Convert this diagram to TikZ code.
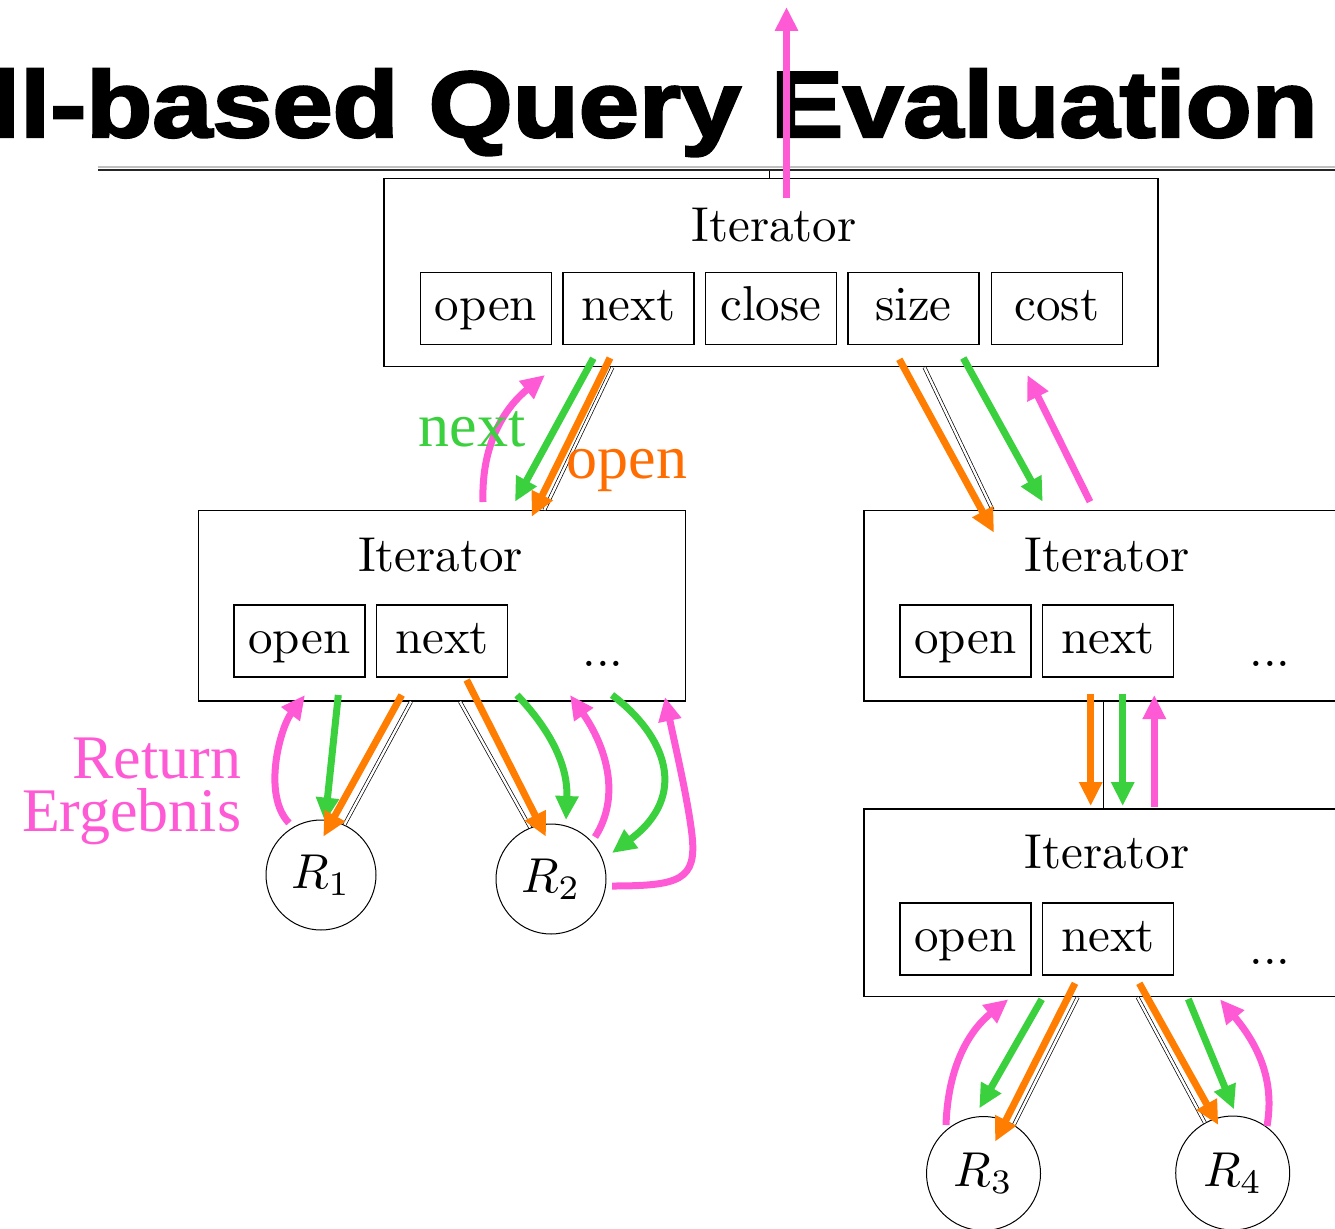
\documentclass[tikz,border=0pt]{standalone}
\usepackage{fontspec}
\usepackage{graphicx}
\usetikzlibrary{arrows.meta,calc}

\newfontfamily\titlefont{Liberation Sans}[BoldFeatures={FakeBold=2.5}]
\newfontfamily\labelfont{Liberation Serif}

% Computer Modern at its 10pt design size, enlarged
\newcommand\bigcm[1]{\scalebox{4.9}{#1}}

\definecolor{cgreen}{RGB}{58,208,62}
\definecolor{corange}{RGB}{255,125,0}
\definecolor{cpink}{RGB}{255,90,214}
\definecolor{lorange}{RGB}{255,108,0}

\begin{document}
\begin{tikzpicture}[x=1pt,y=-1pt,
  obox/.style={draw, line width=1.4pt, rectangle, inner sep=0pt},
  ibox/.style={draw, line width=1.4pt, rectangle, inner sep=0pt,
               minimum width=131pt, minimum height=72pt,
               text height=34pt, text depth=9.5pt},
  txt/.style={inner sep=0pt, anchor=base},
  rnode/.style={draw, line width=1pt, circle, inner sep=0pt},
  link/.style={draw=black, double=white, double distance=2.4pt, line width=0.7pt},
  garr/.style={draw=cgreen, line width=7pt, -{Triangle[length=24pt,width=22pt]}},
  oarr/.style={draw=corange, line width=7pt, -{Triangle[length=24pt,width=22pt]}},
  parr/.style={draw=cpink, line width=7pt, -{Triangle[length=24pt,width=22pt]}}
]
\path[use as bounding box, fill=white] (0,0) rectangle (1335,1228);

% slide title and rule
\node[inner sep=0pt, anchor=base east, xscale=1.15,
      font=\titlefont\bfseries\fontsize{94}{100}\selectfont] (title) at (1318,137)
  {ll-based Query Evaluation};
\draw[gray!50, line width=2pt] (98,167) -- (1335,167);
\draw[black!85, line width=2pt] (98,170) -- (1335,170);

% iterator boxes
\node[obox, minimum width=773.7pt, minimum height=188.4pt] (top) at (771,272.5) {};
\node[obox, minimum width=487.4pt, minimum height=190.3pt] (left) at (442,605.8) {};
\node[obox, minimum width=487.4pt, minimum height=190.3pt] (right) at (1107.7,605.8) {};
\node[obox, minimum width=487.4pt, minimum height=187.7pt] (lower) at (1107.7,902.8) {};

\node[txt] (toptitle) at (774,241) {\bigcm{Iterator}};
\node[txt] (lefttitle) at (440.5,571.7) {\bigcm{Iterator}};
\node[txt] (righttitle) at (1107,571.7) {\bigcm{Iterator}};
\node[txt] (lowertitle) at (1107,868) {\bigcm{Iterator}};

\node[ibox] (topopen)  at (486,308.5)   {\bigcm{open}};
\node[ibox] (topnext)  at (628.3,308.5) {\bigcm{next}};
\node[ibox] (topclose) at (771,308.5)   {\bigcm{close}};
\node[ibox] (topsize)  at (913.5,308.5) {\bigcm{size}};
\node[ibox] (topcost)  at (1056.8,308.5) {\bigcm{cost}};

\node[ibox] (leftopen)  at (299.5,641) {\bigcm{open}};
\node[ibox] (leftnext)  at (442,641)   {\bigcm{next}};
\node[ibox] (rightopen) at (965.5,641) {\bigcm{open}};
\node[ibox] (rightnext) at (1108,641)  {\bigcm{next}};
\node[ibox] (lowopen)   at (965.5,939) {\bigcm{open}};
\node[ibox] (lownext)   at (1108,939)  {\bigcm{next}};

\node[txt] (leftdots)  at (603,666)  {\bigcm{...}};
\node[txt] (rightdots) at (1270,666) {\bigcm{...}};
\node[txt] (lowdots)   at (1270,964) {\bigcm{...}};

% relations
\node[rnode, minimum size=110pt] (R1) at (321,875)      {\bigcm{$R_1$}};
\node[rnode, minimum size=110pt] (R2) at (551,879)      {\bigcm{$R_2$}};
\node[rnode, minimum size=114pt] (R3) at (983.5,1173.5) {\bigcm{$R_3$}};
\node[rnode, minimum size=114pt] (R4) at (1232.7,1173)  {\bigcm{$R_4$}};

% tree edges
\draw[line width=1pt] ([xshift=386pt]top.north west) -- ++(0,-7);
\draw[link] ([xshift=229pt]top.south west) -- ([xshift=346.7pt]left.north west);
\draw[link] ([xshift=541pt]top.south west) -- ([xshift=129.3pt]right.north west);
\draw[link] ([xshift=238.3pt]right.south west) -- ([xshift=238.3pt]lower.north west);
\draw[link] ([xshift=213.4pt]left.south west) -- (R1.65);
\draw[link] ([xshift=262.4pt]left.south west) -- (R2.112);
\draw[link] ([xshift=214.3pt]lower.south west) -- (R3.58);
\draw[link] ([xshift=274.3pt]lower.south west) -- (R4.119);

% result passed up from the root
\draw[parr] (786.5,198) -- (786.5,7);

% root <-> left child
\draw[garr] (593.3,358.3) -- (515,501.7);
\draw[oarr] (610,358) -- (531.7,516.7);
\draw[parr] (483,502) .. controls (481,440) and (508,405) .. (545,375);
\node[inner sep=0pt, anchor=base, text=cgreen,
      font=\labelfont\fontsize{62}{62}\selectfont] (nextlabel) at (472,446.7) {next};
\node[inner sep=0pt, anchor=base west, text=lorange,
      font=\labelfont\fontsize{62}{62}\selectfont] (openlabel) at (566.7,478) {open};

% root <-> right child
\draw[oarr] (899.3,359.3) -- (994,532.7);
\draw[garr] (963.3,358) -- (1042.7,501.7);
\draw[parr] (1090,501.7) -- (1027.3,375);

% right child <-> lower iterator
\draw[oarr] (1090.7,694.3) -- (1090.7,806);
\draw[garr] (1122.7,694.3) -- (1122.7,806);
\draw[parr] (1154.3,806.7) -- (1154.3,695);

% left child <-> R1, R2
\draw[parr] (289,823) .. controls (262,795) and (280,728) .. (305,695);
\draw[garr] (338.3,695) -- (325,821.7);
\draw[oarr] (401.7,695) -- (323.3,836.7);
\draw[oarr] (466.7,680) -- (546,836.7);
\draw[garr] (517,695) .. controls (555,735) and (568,770) .. (566,820);
\draw[parr] (595,837) .. controls (622,795) and (605,745) .. (570,695);
\draw[garr] (612,695) .. controls (665,735) and (690,795) .. (612,853);
\draw[parr] (612,886) .. controls (680,886) and (697,880) .. (692,835)
                      .. controls (688,800) and (675,745) .. (665,697);
\node[inner sep=0pt, anchor=south east, align=right, text=cpink,
      font=\labelfont\fontsize{62}{53}\selectfont] (retlabel) at (241.5,845.2)
  {Return\\Ergebnis};

% lower iterator <-> R3, R4
\draw[parr] (946,1125) .. controls (948,1065) and (970,1030) .. (1008.3,999.3);
\draw[garr] (1041.7,999.3) -- (979.3,1108.3);
\draw[oarr] (1075,983.3) -- (995,1141.7);
\draw[oarr] (1139.3,983.3) -- (1218.3,1125);
\draw[garr] (1188.3,999) -- (1234,1109.3);
\draw[parr] (1267,1126) .. controls (1275,1080) and (1258,1045) .. (1220,999.3);
\end{tikzpicture}
\end{document}
